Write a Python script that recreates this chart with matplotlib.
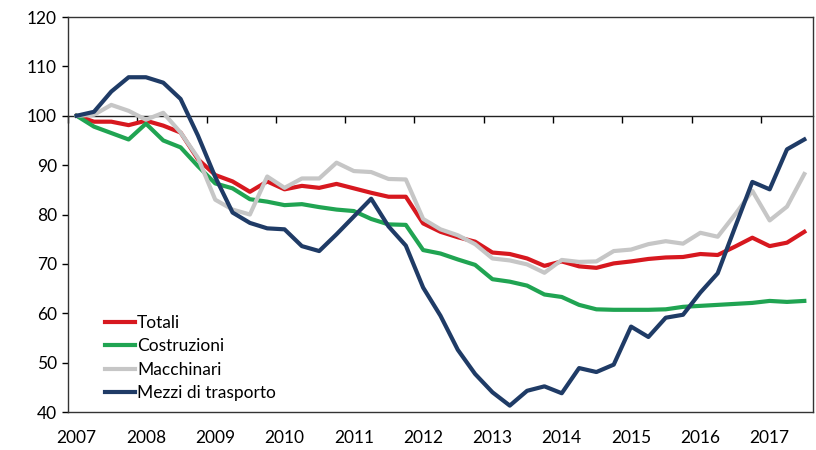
import numpy as np
import matplotlib
matplotlib.use('Agg')
import matplotlib.pyplot as plt

# quarterly index, 2007Q1 = 100
years = ['2007', '2008', '2009', '2010', '2011', '2012', '2013', '2014', '2015', '2016', '2017']
totali = [100, 98.8, 98.8, 98.1, 99.0, 98.0, 96.6, 91.2, 88.0, 86.7, 84.6, 86.7, 85.1, 85.8, 85.4,
          86.2, 85.3, 84.4, 83.6, 83.6, 78.2, 76.5, 75.4, 74.5, 72.3, 72.0, 71.1, 69.6, 70.5, 69.5,
          69.2, 70.1, 70.5, 71.0, 71.3, 71.4, 72.0, 71.8, 73.5, 75.3, 73.6, 74.3, 76.5]
costruzioni = [100, 97.8, 96.5, 95.2, 98.4, 95.0, 93.6, 89.8, 86.3, 85.3, 83.1, 82.6, 81.9, 82.1, 81.5,
               81.0, 80.7, 79.1, 78.0, 77.9, 72.8, 72.1, 70.9, 69.8, 66.9, 66.4, 65.6, 63.8, 63.3, 61.7,
               60.8, 60.7, 60.7, 60.7, 60.8, 61.3, 61.5, 61.7, 61.9, 62.1, 62.5, 62.3, 62.5]
macchinari = [100, 100.2, 102.2, 101.0, 99.2, 100.6, 96.6, 91.5, 83.0, 81.0, 80.0, 87.7, 85.4, 87.3, 87.3,
              90.5, 88.8, 88.6, 87.2, 87.1, 79.1, 77.0, 75.8, 74.0, 71.1, 70.7, 69.9, 68.2, 70.8, 70.4,
              70.5, 72.6, 72.9, 74.0, 74.6, 74.1, 76.3, 75.5, 80.0, 84.8, 78.8, 81.6, 88.2]
mezzi = [100, 100.8, 104.9, 107.8, 107.8, 106.7, 103.4, 96.0, 87.6, 80.4, 78.3, 77.2, 77.0, 73.6, 72.6,
         76.0, 79.6, 83.2, 77.6, 73.7, 65.2, 59.5, 52.6, 47.7, 44.0, 41.3, 44.3, 45.2, 43.8, 48.9,
         48.1, 49.6, 57.3, 55.2, 59.1, 59.7, 64.2, 68.1, 77.4, 86.6, 85.1, 93.2, 95.2]

plt.rcParams['font.family'] = ['Lato', 'DejaVu Sans']

x = np.arange(len(totali))
fig = plt.figure(figsize=(8.16, 4.5), dpi=100)
ax = fig.add_axes([0.0833, 0.0844, 0.9130, 0.8778])

ax.plot(x, totali, color='#d7181f', lw=3, label='Totali')
ax.plot(x, costruzioni, color='#20a452', lw=3, label='Costruzioni')
ax.plot(x, macchinari, color='#c6c6c6', lw=3, label='Macchinari')
ax.plot(x, mezzi, color='#1f3b66', lw=3, label='Mezzi di trasporto')

ax.set_xlim(-0.5, len(totali) - 0.5)
ax.set_ylim(40, 120)
ax.set_yticks(np.arange(40, 121, 10))
ax.tick_params(axis='y', direction='out', length=4, width=1, pad=4, labelsize=12.5)
ax.set_xticks(np.arange(0, len(totali), 4))
ax.set_xticklabels(years)
ax.tick_params(axis='x', length=0, pad=13, labelsize=12.5)
for s in ax.spines.values():
    s.set_color('#333333')
    s.set_linewidth(1)

# axis line at 100 with year separators
sec = ax.secondary_xaxis(0.75)
sec.set_xticks(np.arange(-0.5, len(totali), 4))
sec.tick_params(direction='in', length=5, width=1, labeltop=False, labelbottom=False)
sec.spines['top'].set_color('#222222')
sec.spines['top'].set_linewidth(1)

ax.legend(loc='upper left', bbox_to_anchor=(0.0497, 0.2456), frameon=False, fontsize=12.5,
          handlelength=1.75, handletextpad=0.1, labelspacing=0.43, borderpad=0, borderaxespad=0)

fig.savefig('out.png')
